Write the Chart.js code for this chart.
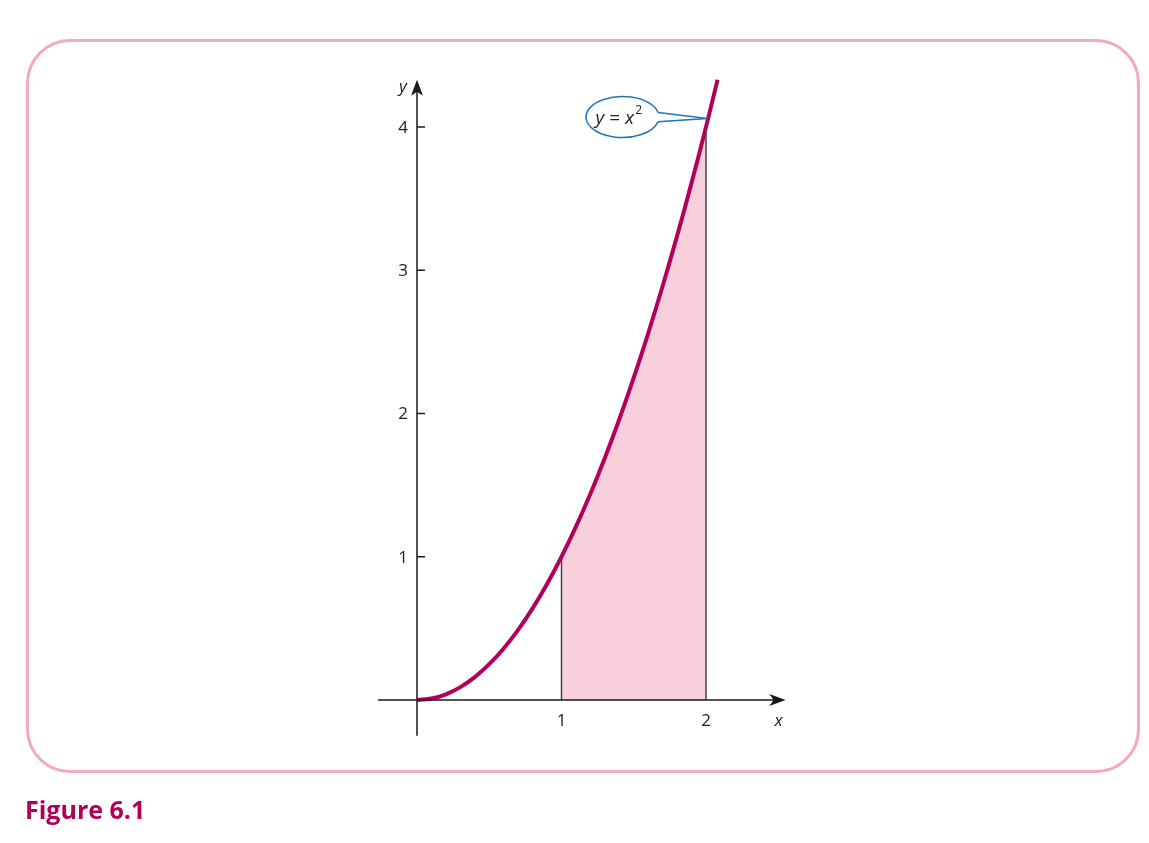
<!DOCTYPE html>
<html>
<head>
<meta charset="utf-8">
<script src="https://cdn.jsdelivr.net/npm/chart.js@4/dist/chart.umd.min.js"></script>
<style>
  html, body { margin: 0; padding: 0; background: #fff; }
  #wrap { position: relative; width: 1149px; height: 843px; overflow: hidden; }
  #frame {
    position: absolute; left: 26px; top: 39px; width: 1108px; height: 728px;
    border: 3px solid #f3a8bf; border-radius: 44px; box-sizing: content-box;
  }
  #chart { position: absolute; left: 0; top: 0; }
  #caption {
    position: absolute; left: 25px; top: 792px;
    font-family: "Open Sans", "Noto Sans", sans-serif; font-weight: 700;
    font-size: 25px; color: #b0005a;
  }
</style>
</head>
<body>
<div id="wrap">
  <div id="frame"></div>
  <canvas id="chart" width="1149" height="843"></canvas>
  <div id="caption">Figure 6.1</div>
</div>
<script>
// ==========================================
// DATA
// ==========================================
const curveX = [0, 0.1, 0.2, 0.3, 0.4, 0.5, 0.6, 0.7, 0.8, 0.9, 1.0, 1.1, 1.2, 1.3, 1.4, 1.5, 1.6, 1.7, 1.8, 1.9, 2.0, 2.08];
const curveY = [0, 0.01, 0.04, 0.09, 0.16, 0.25, 0.36, 0.49, 0.64, 0.81, 1.0, 1.21, 1.44, 1.69, 1.96, 2.25, 2.56, 2.89, 3.24, 3.61, 4.0, 4.33];
const areaX = [1.0, 1.1, 1.2, 1.3, 1.4, 1.5, 1.6, 1.7, 1.8, 1.9, 2.0];
const areaY = [1.0, 1.21, 1.44, 1.69, 1.96, 2.25, 2.56, 2.89, 3.24, 3.61, 4.0];
const xTicks = [1, 2];
const yTicks = [1, 2, 3, 4];
const curveLabel = 'y = x²';

const toPoints = (xs, ys) => xs.map((x, i) => ({ x: x, y: ys[i] }));

// ==========================================
// AXES + CALLOUT PLUGIN
// ==========================================
const axesPlugin = {
    id: 'axesAtOrigin',
    afterDatasetsDraw(chart) {
        const ctx = chart.ctx;
        const xs = chart.scales.x, ys = chart.scales.y;
        const x0 = xs.getPixelForValue(0), y0 = ys.getPixelForValue(0);
        const tickFont = '17px "Open Sans", "Noto Sans", sans-serif';
        const italFont = 'italic 17px "Open Sans", "Noto Sans", sans-serif';

        ctx.save();
        // boundary verticals of the shaded area
        ctx.strokeStyle = '#444';
        ctx.lineWidth = 1.5;
        [0, areaX.length - 1].forEach(i => {
            const px = xs.getPixelForValue(areaX[i]);
            ctx.beginPath();
            ctx.moveTo(px, y0);
            ctx.lineTo(px, ys.getPixelForValue(areaY[i]) + 2);
            ctx.stroke();
        });

        // axis lines
        ctx.strokeStyle = '#1a1a1a';
        ctx.lineWidth = 1.5;
        const xLeft = xs.getPixelForValue(-0.27), xTip = xs.getPixelForValue(2.55);
        const yBottom = ys.getPixelForValue(-0.25), yTip = ys.getPixelForValue(4.33);
        ctx.beginPath();
        ctx.moveTo(xLeft, y0); ctx.lineTo(xTip - 8, y0);
        ctx.moveTo(x0, yBottom); ctx.lineTo(x0, yTip + 8);
        ctx.stroke();

        // arrow heads
        ctx.fillStyle = '#1a1a1a';
        ctx.beginPath();
        ctx.moveTo(xTip, y0);
        ctx.lineTo(xTip - 16, y0 - 6);
        ctx.lineTo(xTip - 12, y0);
        ctx.lineTo(xTip - 16, y0 + 6);
        ctx.closePath();
        ctx.fill();
        ctx.beginPath();
        ctx.moveTo(x0, yTip);
        ctx.lineTo(x0 - 6, yTip + 16);
        ctx.lineTo(x0, yTip + 12);
        ctx.lineTo(x0 + 6, yTip + 16);
        ctx.closePath();
        ctx.fill();

        // y ticks and labels
        ctx.font = tickFont;
        ctx.fillStyle = '#222';
        ctx.textAlign = 'right';
        ctx.textBaseline = 'middle';
        yTicks.forEach(v => {
            const py = ys.getPixelForValue(v);
            ctx.beginPath();
            ctx.moveTo(x0, py); ctx.lineTo(x0 + 8, py);
            ctx.stroke();
            ctx.fillText(String(v), x0 - 9, py + 1);
        });

        // x labels
        ctx.textAlign = 'center';
        xTicks.forEach(v => {
            ctx.fillText(String(v), xs.getPixelForValue(v), y0 + 21);
        });

        // axis names
        ctx.font = italFont;
        ctx.fillText('x', xTip - 7, y0 + 21);
        ctx.fillText('y', x0 - 14, yTip + 7);

        // callout ellipse with pointer
        const cx = xs.getPixelForValue(1.422), cy = ys.getPixelForValue(4.07);
        const tipX = xs.getPixelForValue(2.01), tipY = ys.getPixelForValue(4.06);
        const rx = 36.5, ry = 20.5;
        const a1 = -0.22, a2 = 0.24;
        ctx.strokeStyle = '#1f74bd';
        ctx.lineWidth = 1.5;
        ctx.beginPath();
        ctx.ellipse(cx, cy, rx, ry, 0, a2, a1 + Math.PI * 2);
        ctx.stroke();
        ctx.beginPath();
        ctx.moveTo(cx + rx * Math.cos(a1), cy + ry * Math.sin(a1));
        ctx.lineTo(tipX, tipY);
        ctx.lineTo(cx + rx * Math.cos(a2), cy + ry * Math.sin(a2));
        ctx.stroke();

        // label text y = x^2
        ctx.fillStyle = '#222';
        ctx.textAlign = 'left';
        ctx.textBaseline = 'alphabetic';
        const base = cy + 7;
        let tx = cx - 27;
        ctx.font = 'italic 19px "Open Sans", "Noto Sans", sans-serif';
        ctx.fillText(curveLabel[0], tx, base);
        tx += ctx.measureText(curveLabel[0]).width + 5;
        ctx.font = '19px "Open Sans", "Noto Sans", sans-serif';
        ctx.fillText('=', tx, base);
        tx += ctx.measureText('=').width + 5;
        ctx.font = 'italic 19px "Open Sans", "Noto Sans", sans-serif';
        ctx.fillText(curveLabel[4], tx, base);
        tx += ctx.measureText(curveLabel[4]).width + 1;
        ctx.font = '12px "Open Sans", "Noto Sans", sans-serif';
        ctx.fillText('2', tx, base - 10);
        ctx.restore();
    }
};

// ==========================================
// CHART
// ==========================================
const ctx = document.getElementById('chart').getContext('2d');
new Chart(ctx, {
    type: 'scatter',
    data: {
        datasets: [
            {
                label: 'y = x^2',
                data: toPoints(curveX, curveY),
                showLine: true,
                borderColor: '#b3005a',
                borderWidth: 4,
                pointRadius: 0,
                tension: 0.4,
                fill: false
            },
            {
                label: 'area',
                data: toPoints(areaX, areaY),
                showLine: true,
                borderWidth: 0,
                borderColor: 'rgba(0,0,0,0)',
                backgroundColor: '#f8d0dc',
                pointRadius: 0,
                tension: 0.4,
                fill: 'origin'
            }
        ]
    },
    options: {
        responsive: false,
        animation: false,
        events: [],
        layout: { padding: { left: 373.65, right: 356.3, top: 69.7, bottom: 100.025 } },
        plugins: { legend: { display: false }, tooltip: { enabled: false } },
        scales: {
            x: { type: 'linear', min: -0.3, max: 2.6, display: false },
            y: { type: 'linear', min: -0.3, max: 4.4, display: false }
        }
    },
    plugins: [axesPlugin]
});
</script>
</body>
</html>
